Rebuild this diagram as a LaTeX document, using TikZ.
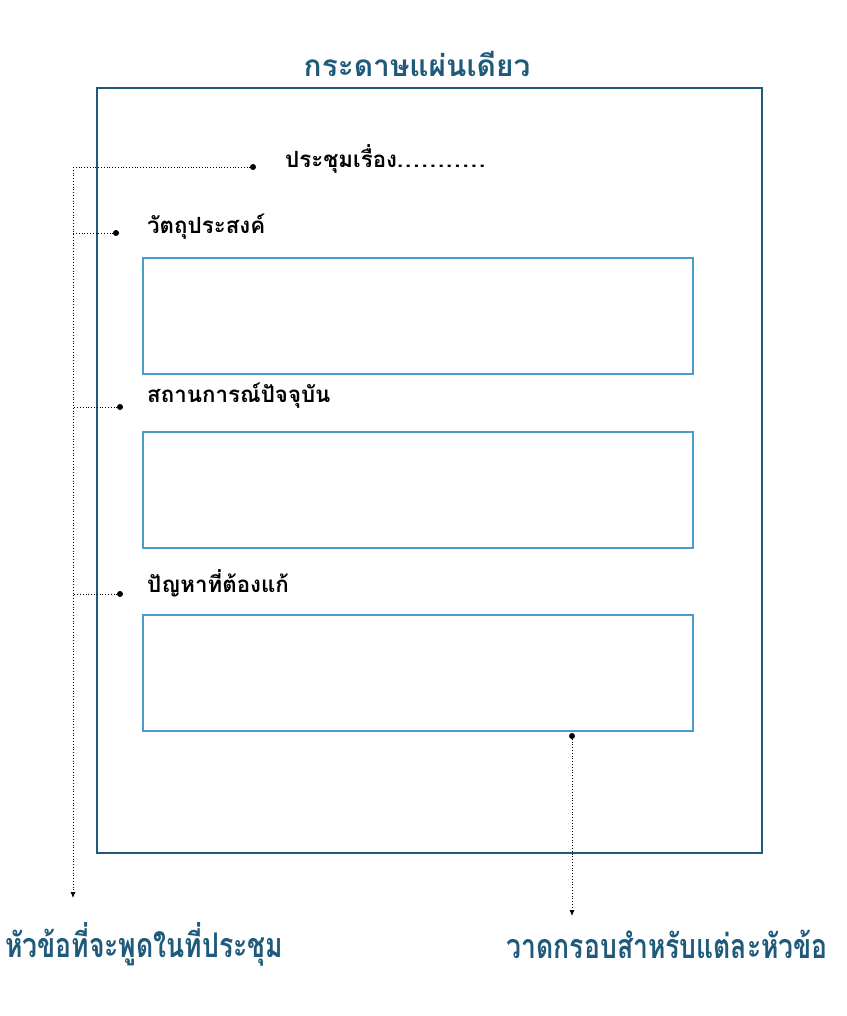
\documentclass[tikz,border=0pt]{standalone}
\usepackage{fontspec}
\setmainfont{Liberation Sans}
\newfontfamily\thaifont[Script=Thai]{Loma}
\newfontfamily\thaicond[Script=Thai,FakeStretch=0.78]{Loma}
\usetikzlibrary{arrows.meta}
\definecolor{darkblue}{HTML}{1F5A7A}
\definecolor{lightblue}{HTML}{4A9CCB}
\newcommand\leaderdots{.\kern2pt.\kern2pt.\kern2pt.\kern2pt.\kern2pt.\kern2pt.\kern2pt.\kern2pt.\kern2pt.\kern2pt.}
\tikzset{
  outerbox/.style={draw=darkblue, line width=2.2pt},
  innerbox/.style={draw=lightblue, line width=2pt},
  dotmark/.style={circle, fill=black, inner sep=0pt, minimum size=6pt},
  leader/.style={dotted, line width=0.8pt},
  leadarrow/.style={leader, -{Latex[length=6pt,width=5pt]}},
  heading/.style={anchor=west, inner sep=0pt, font=\thaifont\bfseries\fontsize{22.3}{25}\selectfont},
  title/.style={inner sep=0pt, text=darkblue, font=\thaifont\bfseries\fontsize{29.8}{32}\selectfont},
  bottomlabel/.style={inner sep=0pt, text=darkblue, font=\thaicond\bfseries\fontsize{34}{36}\selectfont},
}
\begin{document}
\begin{tikzpicture}[x=1pt,y=-1pt]
\useasboundingbox (0,0) rectangle (846,1016);
% title and sheet
\node[title] (title) at (417,64) {กระดาษแผ่นเดียว};
\draw[outerbox] (97,88) rectangle (762,853);
% headings
\node[heading] (meet) at (285,159) {ประชุมเรื่อง\leaderdots};
\node[heading] (obj) at (147,227) {วัตถุประสงค์};
\node[heading] (cur) at (147,396) {สถานการณ์ปัจจุบัน};
\node[heading] (prob) at (147,583) {ปัญหาที่ต้องแก้};
% boxes
\node[innerbox, minimum width=550pt, minimum height=116pt, anchor=north west] (box1) at (142,257) {};
\node[innerbox, minimum width=550pt, minimum height=116pt, anchor=north west] (box2) at (142,431) {};
\node[innerbox, minimum width=550pt, minimum height=116pt, anchor=north west] (box3) at (142,614) {};
% dots
\node[dotmark] (d0) at (253,167) {};
\node[dotmark] (d1) at (116,233) {};
\node[dotmark] (d2) at (120,407) {};
\node[dotmark] (d3) at (120,594) {};
\node[dotmark] (d4) at (572,736) {};
% leader corners
\coordinate (c0) at (73,167);
\coordinate (c1) at (73,233);
\coordinate (c2) at (73,407);
\coordinate (c3) at (73,594);
\coordinate (leftend) at (73,898);
\coordinate (rightend) at (572,916);
% bottom labels
\node[bottomlabel, anchor=west] (lab1) at (5,944) {หัวข้อที่จะพูดในที่ประชุม};
\node[bottomlabel, anchor=east] (lab2) at (828,944) {วาดกรอบสำหรับแต่ละหัวข้อ};
% leaders
\draw[leader] (d0.center) -- (c0);
\draw[leader] (d1.center) -- (c1);
\draw[leader] (d2.center) -- (c2);
\draw[leader] (d3.center) -- (c3);
\draw[leadarrow] (c0) -- (leftend);
\draw[leadarrow] (d4.center) -- (rightend);
\end{tikzpicture}
\end{document}
